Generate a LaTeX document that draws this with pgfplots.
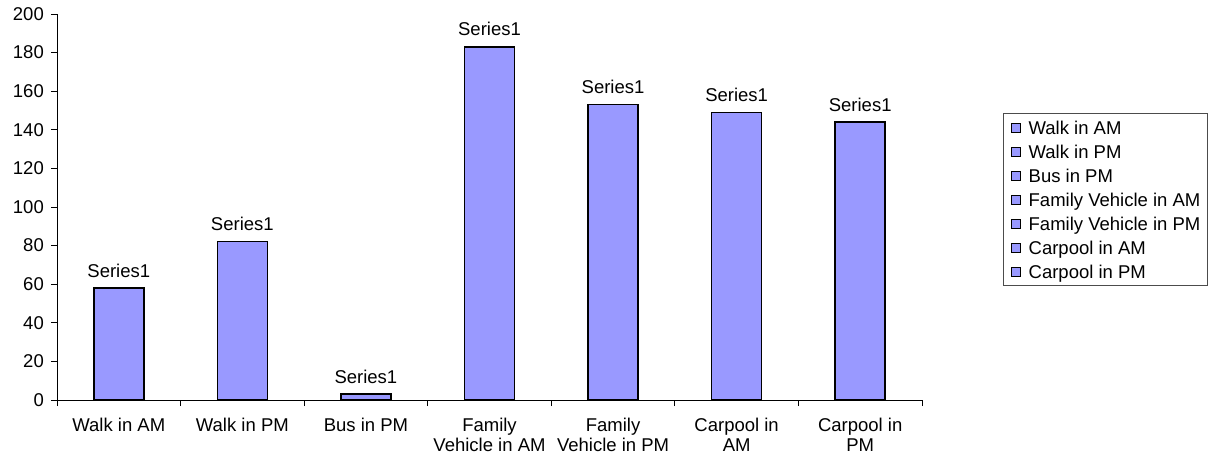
\documentclass[border=0pt]{standalone}
\usepackage{fontspec}
\setmainfont{Liberation Sans}
\usepackage{pgfplots}
\pgfplotsset{compat=1.18}
\definecolor{barblue}{HTML}{9999FF}
\newcommand\fs{\fontsize{18.5}{20}\selectfont}
\pgfplotsset{sq/.style={legend image code/.code={\draw[fill=barblue,draw=black,line width=0.8pt] (0pt,-4.5pt) rectangle (9pt,4.5pt);}}}
\begin{document}
\begin{tikzpicture}
\begin{axis}[name=ax, scale only axis, width=865pt, height=386pt,
  xmin=-0.5, xmax=6.5, ymin=0, ymax=200, ytick={0,20,...,200},
  axis lines=left, axis line style={-, line width=0.8pt, black},
  /pgf/number format/assume math mode=true,
  tick label style={font=\fs},
  xtick={0,...,6},
  xticklabels={Walk in AM, Walk in PM, Bus in PM, Family\\Vehicle in AM, Family\\Vehicle in PM, Carpool in\\AM, Carpool in\\PM},
  xticklabel style={align=center, inner sep=0pt, anchor=north, yshift=-11.5pt},
  major x tick style={draw=none},
  minor xtick={-0.5,0.5,...,6.5},
  tick align=outside, major tick length=6pt, minor tick length=6pt,
  minor x tick style={black, line width=0.8pt},
  ytick style={black, line width=0.8pt},
  yticklabel style={inner sep=0pt, anchor=east, xshift=-7pt},
  legend style={at={(1.0936,0.7435)}, anchor=north west, draw=black!70, line width=0.8pt,
    inner xsep=7.5pt, inner ysep=7.5pt, font=\fs,
    nodes={inner sep=0pt, text height=13.3pt, text depth=0pt},
    row sep=10.7pt, column sep=8pt},
  legend cell align=left,
]
\addplot[ybar, bar width=50pt, fill=barblue, draw=black, line width=1.5pt,
  nodes near coords={Series1},
  nodes near coords style={font=\fs, anchor=south, inner sep=0pt, yshift=10pt},
  forget plot] coordinates {(0,58) (1,82) (2,3) (3,183) (4,153) (5,149) (6,144)};
\addlegendimage{sq}\addlegendentry{Walk in AM}
\addlegendimage{sq}\addlegendentry{Walk in PM}
\addlegendimage{sq}\addlegendentry{Bus in PM}
\addlegendimage{sq}\addlegendentry{Family Vehicle in AM}
\addlegendimage{sq}\addlegendentry{Family Vehicle in PM}
\addlegendimage{sq}\addlegendentry{Carpool in AM}
\addlegendimage{sq}\addlegendentry{Carpool in PM}
\end{axis}
\pgfresetboundingbox
\path (ax.south west) ++(-57pt,-56pt) rectangle ++(1215pt,456pt);
\end{tikzpicture}
\end{document}
